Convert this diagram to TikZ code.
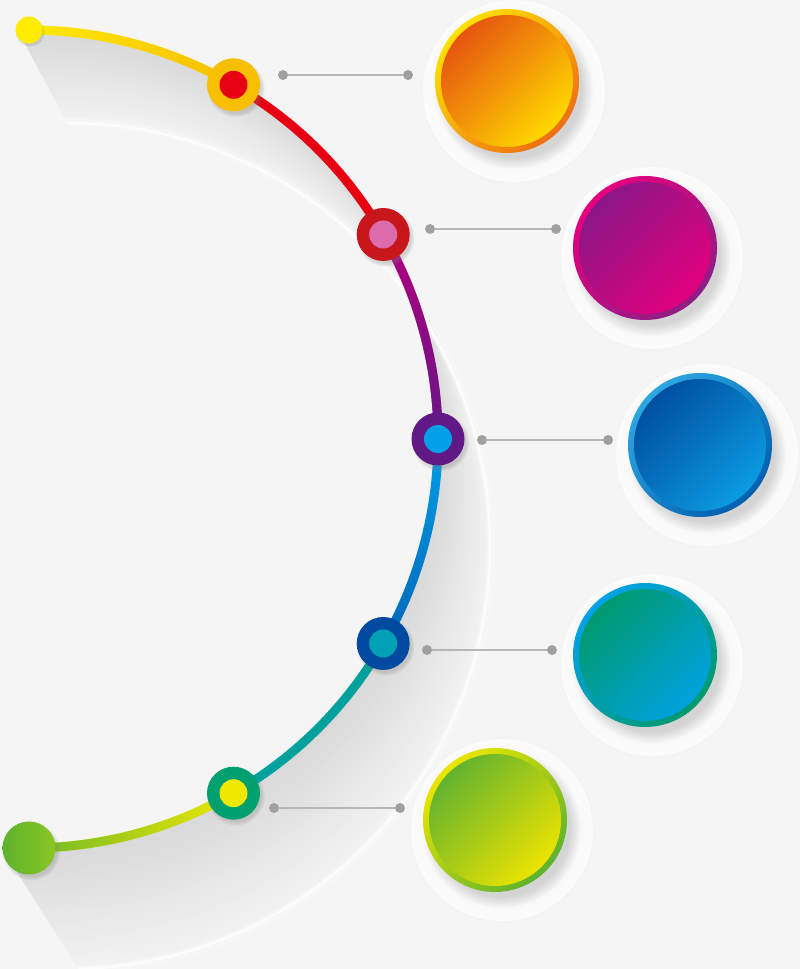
\documentclass[tikz,border=0pt]{standalone}
\usepackage{tikz}
\usetikzlibrary{shadows,fadings}

\definecolor{bgc}{HTML}{F5F5F5}
\definecolor{banddark}{HTML}{D8D8D8}
\definecolor{bandlight}{HTML}{F3F3F3}
\definecolor{dotgray}{HTML}{A0A0A0}
\definecolor{linegray}{HTML}{B6B6B6}
% arc and marker colours
\definecolor{ayel}{HTML}{FFEC00}
\definecolor{agold}{HTML}{F8BE00}
\definecolor{ared}{HTML}{E60012}
\definecolor{adred}{HTML}{C8161D}
\definecolor{apink}{HTML}{DC6BAB}
\definecolor{amag}{HTML}{B4007F}
\definecolor{apurp}{HTML}{611986}
\definecolor{acyan}{HTML}{00A0E9}
\definecolor{ablue}{HTML}{0066B6}
\definecolor{anavy}{HTML}{004BA0}
\definecolor{ateal}{HTML}{00A1B4}
\definecolor{atealb}{HTML}{00A19C}
\definecolor{agreen}{HTML}{00A070}
\definecolor{alime}{HTML}{F0E800}
\definecolor{aleaf}{HTML}{6DB92A}
% button colours
\definecolor{oA}{HTML}{FFE100}\definecolor{oB}{HTML}{EE6F13}
\definecolor{oC}{HTML}{E65510}\definecolor{oD}{HTML}{FFD800}
\definecolor{mA}{HTML}{E5007F}\definecolor{mB}{HTML}{8E1E85}
\definecolor{mC}{HTML}{8B1786}\definecolor{mD}{HTML}{E2007E}
\definecolor{bA}{HTML}{2DA7E0}\definecolor{bB}{HTML}{0060B0}
\definecolor{bC}{HTML}{004FA2}\definecolor{bD}{HTML}{0B9BE0}
\definecolor{tA}{HTML}{00A2E9}\definecolor{tB}{HTML}{009A6D}
\definecolor{tC}{HTML}{009A6E}\definecolor{tD}{HTML}{00A2DE}
\definecolor{gA}{HTML}{EBE600}\definecolor{gB}{HTML}{5DB22E}
\definecolor{gC}{HTML}{63B32E}\definecolor{gD}{HTML}{EBE300}

\begin{document}
\begin{tikzpicture}[x=1pt,y=1pt,
  seg/.style={line width=9pt,bend left=15,looseness=.87},
  ring/.style={circle,inner sep=0pt,minimum size=53pt,
    circular drop shadow={shadow xshift=2pt,shadow yshift=-3pt,opacity=.3}},
  pin/.style={circle,inner sep=0pt,minimum size=28pt},
  tick/.style={circle,fill=dotgray,inner sep=0pt,minimum size=10pt},
  link/.style={linegray,line width=1.5pt},
  halo/.style={circle,fill=white,fill opacity=.7,inner sep=0pt,minimum size=182pt,
    circular drop shadow={shadow xshift=0pt,shadow yshift=0pt,shadow scale=1.03,opacity=.06}},
  disc/.style 2 args={circle,inner sep=0pt,minimum size=144pt,
    top color=#1,bottom color=#2,shading angle=45,
    circular drop shadow={shadow xshift=6pt,shadow yshift=-8pt,opacity=.3}},
  face/.style 2 args={circle,inner sep=0pt,minimum size=132pt,
    top color=#1,bottom color=#2,shading angle=45}]

\useasboundingbox (0,0) rectangle (800,969);
\fill[bgc] (0,0) rectangle (800,969);

% shadow band behind the arc
\begin{scope}
\clip (1.7,969) -- (800,969) -- (800,0) -- (78.3,0) -- (5,116) -- (166,661) -- cycle;
\foreach \t in {0,0.02,...,1.001} {
  \pgfmathtruncatemacro\pc{100*\t}
  \draw[bandlight!\pc!banddark,line width=3pt] ({29+38*\t},{530-107*\t}) circle[radius={409+14*\t}];
}
\draw[white,line width=8pt,opacity=.25] (67,423) circle[radius=424];
\draw[white,line width=2.5pt,opacity=.7] (67,423) circle[radius=423];
\end{scope}

% grey leaders
\node[tick] (a1) at (283,894) {}; \node[tick] (b1) at (408,894) {}; \draw[link] (a1) -- (b1);
\node[tick] (a2) at (430,740) {}; \node[tick] (b2) at (556,740) {}; \draw[link] (a2) -- (b2);
\node[tick] (a3) at (482,529) {}; \node[tick] (b3) at (608,529) {}; \draw[link] (a3) -- (b3);
\node[tick] (a4) at (427,319) {}; \node[tick] (b4) at (552,319) {}; \draw[link] (a4) -- (b4);
\node[tick] (a5) at (274,161) {}; \node[tick] (b5) at (400,161) {}; \draw[link] (a5) -- (b5);

% buttons
\node[halo] (h1) at (514,878) {};
\node[halo] (h2) at (652,711) {};
\node[halo] (h3) at (707,514) {};
\node[halo] (h4) at (652,304) {};
\node[halo] (h5) at (502,139) {};
\node[disc={oA}{oB}] (c1) at (507,888) {};
\node[face={oC}{oD}] (f1) at (c1) {};
\node[disc={mA}{mB}] (c2) at (645,721) {};
\node[face={mC}{mD}] (f2) at (c2) {};
\node[disc={bA}{bB}] (c3) at (700,524) {};
\node[face={bC}{bD}] (f3) at (c3) {};
\node[disc={tA}{tB}] (c4) at (645,314) {};
\node[face={tC}{tD}] (f4) at (c4) {};
\node[disc={gA}{gB}] (c5) at (495,149) {};
\node[face={gC}{gD}] (f5) at (c5) {};

% the arc
\coordinate (p0) at (29,939);
\coordinate (p1) at (233.5,884.2);
\coordinate (p2) at (383.2,734.5);
\coordinate (p3) at (438,530);
\coordinate (p4) at (383.2,325.5);
\coordinate (p5) at (233.5,175.8);
\coordinate (p6) at (29,121);

\draw[seg,ayel] (p0) to (p1); \draw[seg,agold,path fading=west] (p0) to (p1);
\draw[seg,ared] (p1) to (p2);
\draw[seg,amag] (p2) to (p3); \draw[seg,apurp,path fading=north] (p2) to (p3);
\draw[seg,acyan] (p3) to (p4); \draw[seg,ablue,path fading=north] (p3) to (p4);
\draw[seg,atealb] (p4) to (p5);
\draw[seg,alime] (p5) to (p6); \draw[seg,aleaf,path fading=east] (p5) to (p6);

% markers
\node[circle,inner sep=0pt,minimum size=27pt,fill=ayel,
  circular drop shadow={shadow xshift=1pt,shadow yshift=-2pt,opacity=.25}] (m0) at (p0) {};
\node[ring,fill=agold] (m1) at (p1) {}; \node[pin,fill=ared] (n1) at (p1) {};
\node[ring,fill=adred] (m2) at (p2) {}; \node[pin,fill=apink] (n2) at (p2) {};
\node[ring,fill=apurp] (m3) at (p3) {}; \node[pin,fill=acyan] (n3) at (p3) {};
\node[ring,fill=anavy] (m4) at (p4) {}; \node[pin,fill=ateal] (n4) at (p4) {};
\node[ring,fill=agreen] (m5) at (p5) {}; \node[pin,fill=alime] (n5) at (p5) {};
\node[ring,left color=gB,right color=aleaf!80!yellow] (m6) at (p6) {};

\end{tikzpicture}
\end{document}
